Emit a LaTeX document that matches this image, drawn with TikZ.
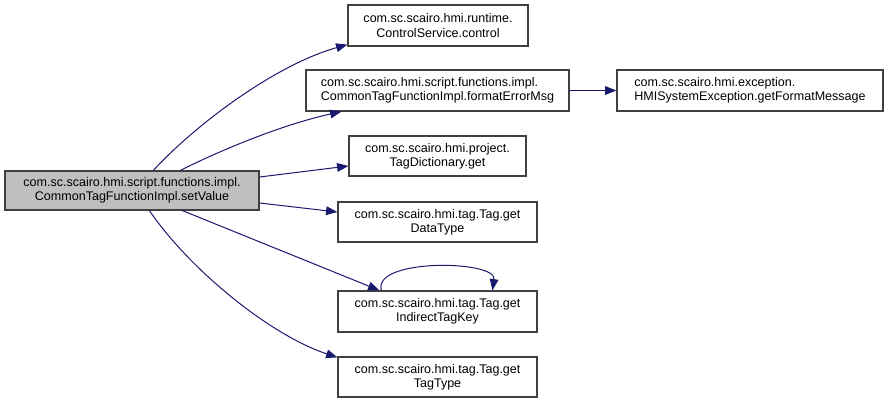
\documentclass[tikz,border=0pt]{standalone}
\usepackage{fontspec}
\setmainfont{Liberation Sans}
\usetikzlibrary{arrows.meta,calc}
\definecolor{edgecol}{HTML}{191970}
\definecolor{boxline}{HTML}{404040}
\definecolor{mainfill}{HTML}{BFBFBF}
\begin{document}
\begin{tikzpicture}[x=0.75pt,y=-0.75pt,
  box/.style={draw=boxline,line width=0.9pt,fill=white,inner sep=1pt,align=center,
    font=\fontsize{9.4pt}{10.7pt}\selectfont},
  lbox/.style={box,align=left},
  edge/.style={draw=edgecol,line width=0.75pt,-{Triangle[length=8.5pt,width=6.5pt]}}]
\useasboundingbox (0,0) rectangle (887,403);
\node[box,fill=mainfill,minimum width=190.5pt,minimum height=29.25pt] (main) at (132,190.5)
  {com.sc.scairo.hmi.script.functions.impl.\\CommonTagFunctionImpl.setValue};
\node[box,minimum width=135pt,minimum height=30.75pt] (cs) at (438,25.5)
  {com.sc.scairo.hmi.runtime.\\ControlService.control};
\node[lbox,minimum width=197.25pt,minimum height=30.75pt] (fem) at (437.5,90.5)
  {com.sc.scairo.hmi.script.functions.impl.\\CommonTagFunctionImpl.formatErrorMsg};
\node[lbox,minimum width=199.5pt,minimum height=30.75pt] (hmi) at (750,90.5)
  {com.sc.scairo.hmi.exception.\\HMISystemException.getFormatMessage};
\node[box,minimum width=132.75pt,minimum height=30pt] (td) at (437.5,156)
  {com.sc.scairo.hmi.project.\\TagDictionary.get};
\node[box,minimum width=149.25pt,minimum height=30pt] (dt) at (437.5,222)
  {com.sc.scairo.hmi.tag.Tag.get\\DataType};
\node[box,minimum width=149.25pt,minimum height=30.75pt] (itk) at (437.5,311.5)
  {com.sc.scairo.hmi.tag.Tag.get\\IndirectTagKey};
\node[box,minimum width=149.25pt,minimum height=30pt] (tt) at (437.5,377)
  {com.sc.scairo.hmi.tag.Tag.get\\TagType};

\draw[edge] ($(main.north west)+(149,0)$) .. controls (195,125) and (275,65) .. ($(cs.south west)+(0,-2)$);
\draw[edge] ($(main.north west)+(176,0)$) .. controls (225,148) and (285,124) .. ($(fem.south west)+(36,0)$);
\draw[edge] ($(main.east)+(0,-13.5)$) -- ($(td.west)+(0,10)$);
\draw[edge] ($(main.east)+(0,12.5)$) -- ($(dt.west)+(0,-10)$);
\draw[edge] ($(main.south west)+(178,0)$) -- ($(itk.north west)+(42,0)$);
\draw[edge] ($(itk.north west)+(44,0)$) .. controls (372,258) and (497,260) .. ($(itk.north west)+(155,0)$);
\draw[edge] ($(main.south west)+(145,0)$) .. controls (190,270) and (270,335) .. ($(tt.north west)+(0,1)$);
\draw[edge] (fem.east) -- (hmi.west);
\end{tikzpicture}
\end{document}
